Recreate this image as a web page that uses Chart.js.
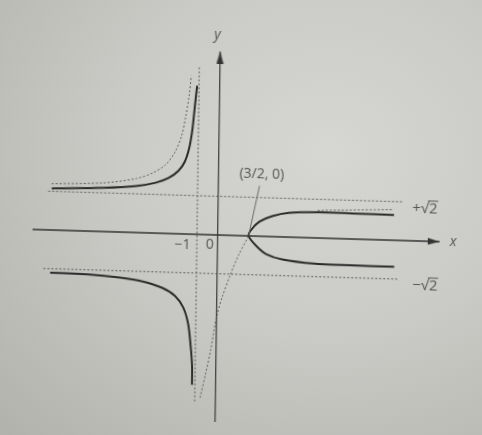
<!DOCTYPE html>
<html>
<head>
<meta charset="utf-8">
<script src="https://cdn.jsdelivr.net/npm/chart.js@4.4.1/dist/chart.umd.min.js"></script>
<style>
  html, body { margin: 0; padding: 0; overflow: hidden; }
  body {
    width: 482px; height: 435px;
    background: radial-gradient(ellipse at 68% 35%, #d6d6d2 0%, #cacac6 45%, #b2b2ad 100%);
  }
  /* the photo is slightly skewed, so the canvas is too */
  #graph {
    display: block;
    transform-origin: 217px 235.5px;
    transform: matrix(1, 0.03, -0.0139, 1, 0, 0);
  }
</style>
</head>
<body>
<canvas id="graph" width="482" height="435"></canvas>
<script>
// values
const X_MIN = -10.24, X_MAX = 12.5;
const Y_MIN = -7.07, Y_MAX = 8.35;
const ROOT2 = 1.414;

const leftUpperX = [-8.07, -5.55, -3.98, -3.04, -2.41, -1.94, -1.64, -1.44, -1.31, -1.23, -1.16, -1.09];
const leftUpperY = [1.52, 1.60, 1.70, 1.84, 2.03, 2.30, 2.64, 3.12, 3.71, 4.31, 4.90, 5.43];

const leftLowerX = [-8.09, -6.28, -4.70, -3.60, -2.65, -2.02, -1.62, -1.37, -1.23, -1.15, -1.14];
const leftLowerY = [-1.56, -1.58, -1.66, -1.78, -1.99, -2.27, -2.68, -3.27, -4.09, -4.80, -5.50];

const rightX = [8.58, 6.29, 4.72, 3.15, 2.36, 1.88, 1.5, 1.63, 2.02, 2.64, 3.43, 4.84, 6.58, 8.54];
const rightY = [-0.97, -0.96, -0.94, -0.82, -0.64, -0.355, 0, 0.23, 0.535, 0.75, 0.886, 0.94, 0.935, 0.92];

const dotLeftX = [-8.07, -5.55, -3.99, -3.20, -2.58, -2.12, -1.81, -1.62, -1.48, -1.38];
const dotLeftY = [1.69, 1.78, 1.97, 2.19, 2.50, 2.98, 3.58, 4.30, 5.01, 5.78];

const dotMidX = [-0.74, -0.47, -0.25, 0, 0.26, 0.64, 1.02, 1.5];
const dotMidY = [-5.96, -5.02, -4.18, -3.0, -2.28, -1.45, -0.73, 0];

const dotRightX = [4.84, 8.52];
const dotRightY = [1.01, 1.12];

const tickLabels = ["\u22121", "0"];
const asymLabels = ["+\u221a2", "\u2212\u221a2"];

const pts = (xs, ys) => xs.map((x, i) => ({ x: x, y: ys[i] }));

function makeArrow() {
  const c = document.createElement("canvas");
  c.width = 8; c.height = 24;
  const g = c.getContext("2d");
  g.fillStyle = "#333";
  g.beginPath();
  g.moveTo(4, 12);
  g.lineTo(7.5, 24);
  g.lineTo(0.5, 24);
  g.closePath();
  g.fill();
  return c;
}
const arrow = makeArrow();

const curve = (data) => ({
  data: data, showLine: true, pointRadius: 0, borderColor: "#2a2a2a",
  borderWidth: 2, tension: 0.3, fill: false
});
const dotted = (data, t) => ({
  data: data, showLine: true, pointRadius: 0, borderColor: "#5e5e5e",
  borderWidth: 1, borderDash: [2, 2], tension: t || 0, fill: false
});

// text on the picture, placed in data units
const notes = [
  { text: "y", x: -0.14, y: 7.32, font: "italic 14px 'Open Sans'" },
  { text: "x", x: 11.42, y: 0, font: "italic 14px 'Open Sans'" },
  { text: "(3/2, 0)", x: 2.10, y: 2.25, font: "14px 'Open Sans'" },
  { text: tickLabels[0], x: -1.69, y: -0.41, font: "14px 'Open Sans'" },
  { text: tickLabels[1], x: -0.37, y: -0.38, font: "14px 'Open Sans'" },
  { text: asymLabels[0], x: 10.03, y: 1.17, font: "15px 'Open Sans'", bar: true },
  { text: asymLabels[1], x: 10.08, y: -1.64, font: "15px 'Open Sans'", bar: true }
];

const notesPlugin = {
  id: "notes",
  afterDatasetsDraw(chart) {
    const ctx = chart.ctx;
    const sx = chart.scales.x, sy = chart.scales.y;
    ctx.save();
    ctx.fillStyle = "#555";
    ctx.strokeStyle = "#555";
    ctx.textAlign = "center";
    ctx.textBaseline = "middle";
    notes.forEach(n => {
      const px = sx.getPixelForValue(n.x), py = sy.getPixelForValue(n.y);
      ctx.font = n.font;
      ctx.fillText(n.text, px, py);
      if (n.bar) {
        // vinculum over the 2
        const w = ctx.measureText(n.text).width;
        const wHead = ctx.measureText(n.text.slice(0, 2)).width;
        const top = ctx.measureText("\u221a").actualBoundingBoxAscent;
        ctx.lineWidth = 1;
        ctx.beginPath();
        ctx.moveTo(px - w / 2 + wHead - 1, py - top + 0.5);
        ctx.lineTo(px + w / 2 + 0.5, py - top + 0.5);
        ctx.stroke();
      }
    });
    ctx.restore();
  }
};

new Chart(document.getElementById("graph").getContext("2d"), {
  type: "scatter",
  data: {
    datasets: [
      // axes
      {
        data: [{ x: -8.97, y: 0 }, { x: 10.76, y: 0 }], showLine: true,
        borderColor: "#333", borderWidth: 1.4, pointRadius: [0, 5],
        pointStyle: arrow, pointRotation: 90
      },
      {
        data: [{ x: 0, y: -6.83 }, { x: 0, y: 6.70 }], showLine: true,
        borderColor: "#444", borderWidth: 1.3, pointRadius: [0, 5],
        pointStyle: arrow
      },
      // asymptotes
      dotted([{ x: -8.24, y: ROOT2 }, { x: 8.94, y: ROOT2 }]),
      dotted([{ x: -8.42, y: -ROOT2 }, { x: 8.80, y: -ROOT2 }]),
      dotted([{ x: -1, y: -6.10 }, { x: -1, y: 6.11 }]),
      // leader to (3/2, 0)
      {
        data: [{ x: 1.5, y: 0 }, { x: 2.0, y: 1.84 }], showLine: true,
        borderColor: "#6a6a6a", borderWidth: 1, pointRadius: 0
      },
      // dotted curve
      dotted(pts(dotLeftX, dotLeftY), 0.3),
      dotted(pts(dotMidX, dotMidY), 0.3),
      dotted(pts(dotRightX, dotRightY)),
      // solid branches
      curve(pts(leftUpperX, leftUpperY)),
      curve(pts(leftLowerX, leftLowerY)),
      curve(pts(rightX, rightY))
    ]
  },
  options: {
    responsive: false,
    animation: false,
    events: [],
    layout: { padding: 0 },
    plugins: { legend: { display: false }, tooltip: { enabled: false } },
    scales: {
      x: { type: "linear", min: X_MIN, max: X_MAX, display: false },
      y: { type: "linear", min: Y_MIN, max: Y_MAX, display: false }
    }
  },
  plugins: [notesPlugin]
});
</script>
</body>
</html>
